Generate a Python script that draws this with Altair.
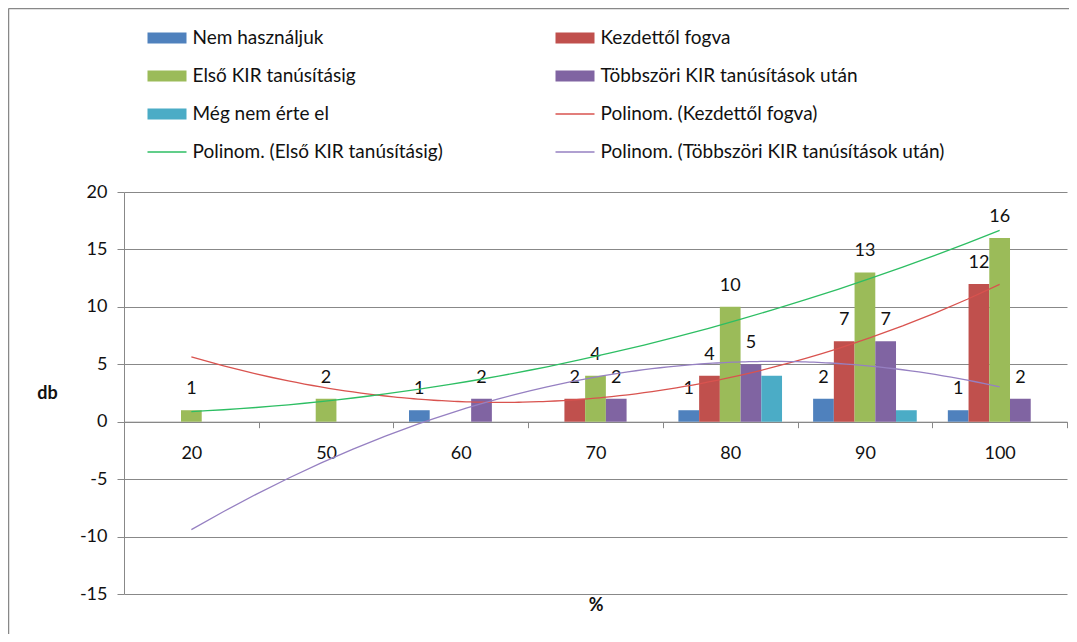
import altair as alt
import pandas as pd

FONT = "Lato"
TXT = "#111111"

categories = ["20", "50", "60", "70", "80", "90", "100"]
series_names = [
    "Nem használjuk",
    "Kezdettől fogva",
    "Első KIR tanúsításig",
    "Többszöri KIR tanúsítások után",
    "Még nem érte el",
]
nem_hasznaljuk = [None, None, 1, None, 1, 2, 1]
kezdettol = [None, None, None, 2, 4, 7, 12]
elso_kir = [1, 2, None, 4, 10, 13, 16]
tobbszori = [None, None, 2, 2, 5, 7, 2]
meg_nem = [None, None, None, None, 4, 1, None]
bar_colors = ["#4F81BD", "#C0504D", "#9BBB59", "#8064A2", "#4BACC6"]

trend_series = ["Kezdettől fogva", "Első KIR tanúsításig", "Többszöri KIR tanúsítások után"]
trend_labels = [
    "Polinom. (Kezdettől fogva)",
    "Polinom. (Első KIR tanúsításig)",
    "Polinom. (Többszöri KIR tanúsítások után)",
]
trend_colors = ["#D9534F", "#2DBE63", "#9680C2"]

# legend layout (Excel order, two columns)
legend_labels = [
    "Nem használjuk", "Kezdettől fogva",
    "Első KIR tanúsításig", "Többszöri KIR tanúsítások után",
    "Még nem érte el", "Polinom. (Kezdettől fogva)",
    "Polinom. (Első KIR tanúsításig)", "Polinom. (Többszöri KIR tanúsítások után)",
]
legend_kind = ["bar", "bar", "bar", "bar", "bar", "line", "line", "line"]
legend_colors = ["#4F81BD", "#C0504D", "#9BBB59", "#8064A2", "#4BACC6",
                 "#D9534F", "#2DBE63", "#9680C2"]

all_values = [nem_hasznaljuk, kezdettol, elso_kir, tobbszori, meg_nem]
rows = []
for s, vals in zip(series_names, all_values):
    for i, (c, v) in enumerate(zip(categories, vals)):
        rows.append({"cat": c, "idx": i + 1, "series": s, "val": v})
df = pd.DataFrame(rows)

leg_rows = []
for i, (lab, kind) in enumerate(zip(legend_labels, legend_kind)):
    leg_rows.append({"label": lab, "kind": kind, "col": i % 2, "row": i // 2})
leg_df = pd.DataFrame(leg_rows)

Y_DOMAIN = [-15, 20]
x_band = alt.X(
    "cat:N", sort=categories,
    scale=alt.Scale(paddingInner=0, paddingOuter=0),
    axis=alt.Axis(
        orient="bottom", offset=-172.3, domainColor="#888888", tickColor="#888888",
        tickSize=6, tickBand="extent", labelAngle=0, labelFontSize=18, labelFont=FONT,
        labelColor=TXT, labelPadding=17, grid=False,
        title="%", titleFont=FONT, titleFontSize=18, titleFontWeight="bold",
        titleColor=TXT, titlePadding=134,
    ),
)
x_off = alt.XOffset(
    "series:N", sort=series_names,
    scale=alt.Scale(domain=series_names, paddingInner=0, paddingOuter=0.75),
)
y_main = alt.Y(
    "val:Q", scale=alt.Scale(domain=Y_DOMAIN, nice=False),
    axis=alt.Axis(
        values=list(range(-15, 21, 5)), labelExpr="'' + datum.value",
        domainColor="#888888", tickColor="#888888",
        tickSize=7, labelFontSize=18, labelFont=FONT, labelColor=TXT, labelPadding=10,
        gridColor="#888888", gridWidth=1, title="db", titleAngle=0, titleX=-77, titleY=201,
        titleAlign="center", titleBaseline="middle", titleFont=FONT, titleFontSize=18,
        titleFontWeight="bold", titleColor=TXT,
    ),
)

base = alt.Chart(df).transform_filter("datum.val != null")

bars = base.mark_bar().encode(
    x=x_band, xOffset=x_off, y=y_main,
    color=alt.Color("series:N", scale=alt.Scale(domain=series_names, range=bar_colors), legend=None),
)
labels = base.transform_filter(
    alt.datum.series != "Még nem érte el"
).mark_text(baseline="middle", dy=-21, fontSize=18, font=FONT, color=TXT).encode(
    x=x_band, xOffset=x_off, y=y_main, text=alt.Text("val:Q"),
)
main = alt.layer(bars, labels)

trend = (
    alt.Chart(df)
    .transform_filter(alt.FieldOneOfPredicate(field="series", oneOf=trend_series))
    .transform_filter("datum.val != null")
    .transform_regression("idx", "val", groupby=["series"], method="poly", order=2, extent=[1, 7])
    .mark_line(strokeWidth=1.3)
    .encode(
        x=alt.X("idx:Q", scale=alt.Scale(domain=[0.5, 7.5], nice=False, zero=False), axis=None),
        y=alt.Y("val:Q", scale=alt.Scale(domain=Y_DOMAIN, nice=False), axis=None),
        color=alt.Color("series:N", scale=alt.Scale(domain=trend_series, range=trend_colors), legend=None),
    )
)

leg_x = alt.X("col:Q", scale=alt.Scale(domain=[0, 1], range=[43, 451]), axis=None)
leg_y = alt.Y("row:Q", scale=alt.Scale(domain=[0, 3], range=[-154, -40]), axis=None)
leg_color = alt.Color("label:N", scale=alt.Scale(domain=legend_labels, range=legend_colors), legend=None)
leg_base = alt.Chart(leg_df)
leg_bar = leg_base.transform_filter(alt.datum.kind == "bar").mark_tick(
    orient="horizontal", size=39, thickness=11, opacity=1).encode(x=leg_x, y=leg_y, color=leg_color)
leg_line = leg_base.transform_filter(alt.datum.kind == "line").mark_tick(
    orient="horizontal", size=39, thickness=1.5, opacity=1).encode(x=leg_x, y=leg_y, color=leg_color)
leg_text = leg_base.mark_text(align="left", baseline="middle", dx=25.5, fontSize=19,
                              font=FONT, color=TXT).encode(x=leg_x, y=leg_y, text="label:N")
legend = alt.layer(leg_bar, leg_line, leg_text)

frame_data = alt.Data(values=[{"k": 1}])
frame_left = alt.Chart(frame_data).mark_rule(color="#888888", strokeWidth=1.5).encode(
    x=alt.value(-115.5), y=alt.value(-183.5), y2=alt.value(442))
frame_top = alt.Chart(frame_data).mark_rule(color="#888888", strokeWidth=1.5).encode(
    x=alt.value(-115.5), x2=alt.value(945), y=alt.value(-183.5))

chart = (
    alt.layer(frame_left, frame_top, main, trend, legend)
    .resolve_scale(x="independent", y="independent", color="independent")
    .properties(
        width=943, height=402,
        padding={"left": 116, "top": 184, "right": 2, "bottom": 40},
        autosize=alt.AutoSizeParams(type="none"),
        background="white",
    )
    .configure_view(stroke=None)
)

chart.save("out.html", embed_options={"renderer": "svg", "actions": False})
